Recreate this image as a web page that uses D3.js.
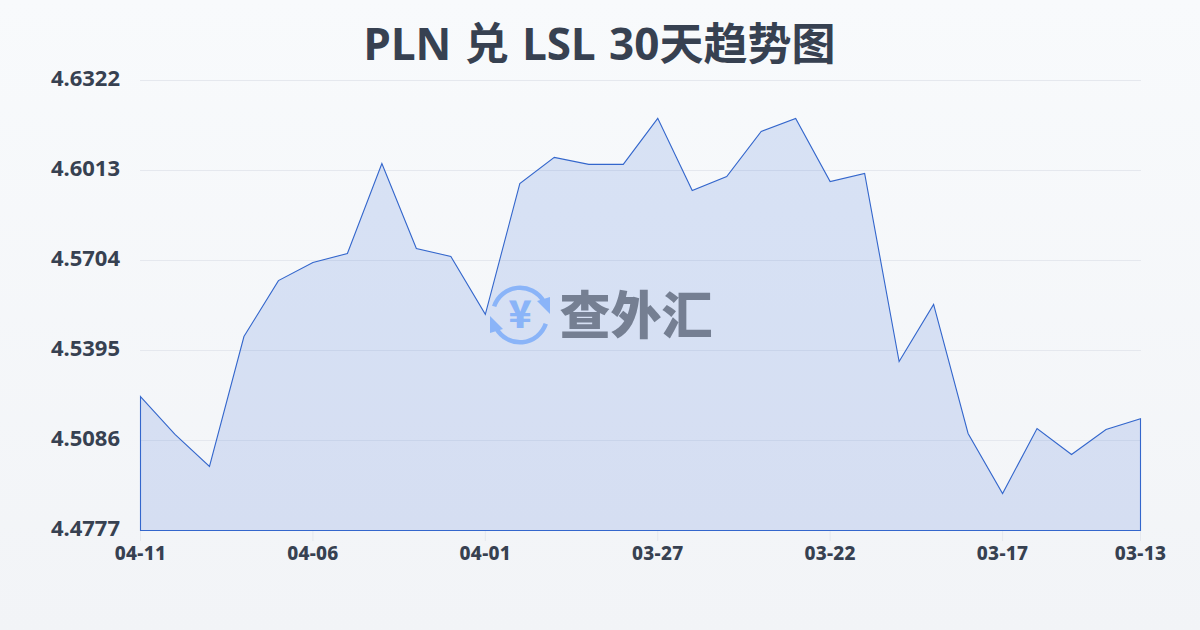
<!DOCTYPE html>
<html><head><meta charset="utf-8">
<script src="https://cdn.jsdelivr.net/npm/d3@7"></script>
<style>html,body{margin:0;padding:0;background:#f5f7fa}svg{display:block}</style>
</head><body><svg id="c" width="1200" height="630"></svg>
<script>
const titleText = "PLN 兑 LSL 30天趋势图";
const yTicks = [4.4777, 4.5086, 4.5395, 4.5704, 4.6013, 4.6322];
const dates = ["04-11","04-10","04-09","04-08","04-07","04-06","04-05","04-04","04-03","04-02","04-01","03-31","03-30","03-29","03-28","03-27","03-26","03-25","03-24","03-23","03-22","03-21","03-20","03-19","03-18","03-17","03-16","03-15","03-14","03-13"];
const values = [4.5237,4.5107,4.4997,4.5443,4.5635,4.5697,4.5728,4.6037,4.5745,4.5718,4.5519,4.5968,4.6058,4.6034,4.6034,4.6192,4.5944,4.5992,4.6147,4.6192,4.5975,4.6003,4.5357,4.5553,4.5110,4.4904,4.5127,4.5038,4.5124,4.5161];
const shownDates = ["04-11","04-06","04-01","03-27","03-22","03-17","03-13"];
const watermark = "查外汇";

const svg = d3.select("#c");
const defs = svg.append("defs");
const bg = defs.append("linearGradient").attr("id","bg").attr("x1",0).attr("y1",0).attr("x2",0).attr("y2",1);
bg.append("stop").attr("offset",0).attr("stop-color","#f8fafc");
bg.append("stop").attr("offset",1).attr("stop-color","#f2f4f7");
svg.append("rect").attr("width",1200).attr("height",630).attr("fill","url(#bg)");

const x = d3.scalePoint().domain(dates).range([140.5,1140.5]);
const y = d3.scaleLinear().domain([4.4777,4.6322]).range([530.5,80.5]);
const font = "'Noto Sans','Noto Sans CJK SC',sans-serif";
const ink = "#374151";

svg.append("text").attr("x",599.5).attr("y",60).attr("text-anchor","middle").attr("word-spacing",2)
  .attr("font-family",font).attr("font-weight",700).attr("font-size",44).attr("fill",ink).text(titleText);

// grid
svg.append("g").selectAll("line").data(yTicks.slice(1)).join("line")
  .attr("x1",140).attr("x2",1141).attr("y1",d=>y(d)).attr("y2",d=>y(d))
  .attr("stroke","#e5e8ee").attr("stroke-width",1);

// area
const area = d3.area().x(d=>x(d.d)).y0(530.5).y1(d=>y(d.v));
const pts = dates.map((d,i)=>({d,v:values[i]}));
svg.append("path").attr("d",area(pts)).attr("fill","#4470d8").attr("fill-opacity",.17)
  .attr("stroke","#3366cc").attr("stroke-width",1.1).attr("stroke-linejoin","miter");

// x ticks
svg.append("g").selectAll("line").data(shownDates).join("line")
  .attr("x1",d=>x(d)).attr("x2",d=>x(d)).attr("y1",531).attr("y2",541)
  .attr("stroke","#e5e8ee");
svg.append("g").selectAll("text").data(shownDates).join("text")
  .attr("x",d=>x(d)).attr("y",560).attr("text-anchor","middle")
  .attr("font-family",font).attr("font-weight",800).attr("font-size",19).attr("letter-spacing",0.3).attr("fill",ink).text(d=>d);

// y labels
svg.append("g").selectAll("text").data(yTicks).join("text")
  .attr("x",120).attr("y",d=>y(d)+5.5).attr("text-anchor","end")
  .attr("font-family",font).attr("font-weight",700).attr("font-size",22).attr("fill",ink).text(d=>d.toFixed(4));

// watermark
const wm = svg.append("g").attr("transform","translate(520,315)");
const blue = "#8ab4f8";
const arc = d3.arc().innerRadius(25).outerRadius(29.5);
wm.append("path").attr("d",arc({startAngle:-1.25,endAngle:1.05})).attr("fill",blue);
wm.append("path").attr("d",arc({startAngle:1.9,endAngle:4.2})).attr("fill",blue);
wm.append("path").attr("d","M17,-14L30,-1L30,-18Z").attr("fill",blue);
wm.append("path").attr("d","M-17,14L-30,1L-30,18Z").attr("fill",blue);
wm.append("text").attr("x",0).attr("y",13).attr("text-anchor","middle").attr("font-family","'Noto Sans CJK SC'").attr("font-weight",900).attr("font-size",38).attr("fill",blue).text("¥");
svg.append("text").attr("x",636).attr("y",334).attr("text-anchor","middle")
  .attr("font-family","'Noto Sans CJK SC'").attr("font-weight",900).attr("font-size",51).attr("fill","#757f92").text(watermark);
</script></body></html>
